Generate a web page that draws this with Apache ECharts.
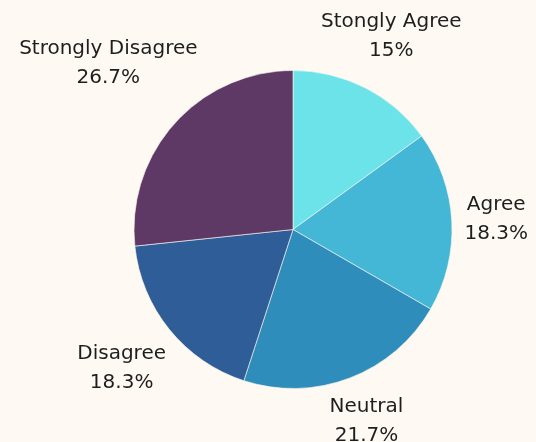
<!DOCTYPE html>
<html>
<head>
<meta charset="utf-8">
<script src="https://cdn.jsdelivr.net/npm/echarts@6/dist/echarts.min.js"></script>
<style>
  html, body { margin: 0; padding: 0; background: #fef9f2; }
  #main { width: 536px; height: 442px; }
</style>
</head>
<body>
<div id="main"></div>
<script>
// 数据
var categories = ['Stongly Agree', 'Agree', 'Neutral', 'Disagree', 'Strongly Disagree'];
var counts = [9, 11, 13, 11, 16];
var colors = ['#6be3e8', '#44b7d6', '#2f8dbb', '#2f5d97', '#5e3966'];

var center = [293, 229.5];
var radius = 159;
var labelGap = 12;
var leading = 5; // 行高中多余的空白，不计入避让框

var total = counts.reduce(function (a, b) { return a + b; }, 0);

// 每个扇区的中心角（从顶部顺时针，弧度）
function midAngle(idx) {
  var before = 0;
  for (var i = 0; i < idx; i++) before += counts[i];
  return (before + counts[idx] / 2) / total * Math.PI * 2;
}

// 标签沿中心角向外推，直到文字框离开半径 radius + labelGap 的圆
function placeLabel(params) {
  var a = midAngle(params.dataIndex);
  var sx = Math.sin(a), sy = -Math.cos(a);
  var hw = params.labelRect.width / 2;
  var hh = params.labelRect.height / 2 - leading;
  var R0 = radius + labelGap;
  var D = 0;
  while (D < 600) {
    var px = D * sx, py = D * sy;
    var nx = Math.max(px - hw, Math.min(0, px + hw));
    var ny = Math.max(py - hh, Math.min(0, py + hh));
    if (Math.sqrt(nx * nx + ny * ny) >= R0) break;
    D += 0.5;
  }
  return {
    x: center[0] + D * sx,
    y: center[1] + D * sy,
    align: 'center',
    verticalAlign: 'middle'
  };
}

var chart = echarts.init(document.getElementById('main'));
chart.setOption({
  backgroundColor: '#fef9f2',
  color: colors,
  animation: false,
  series: [
    {
      type: 'pie',
      center: center,
      radius: radius,
      startAngle: 90,
      clockwise: true,
      avoidLabelOverlap: false,
      percentPrecision: 1,
      itemStyle: {
        borderColor: '#fef9f2',
        borderWidth: 0.6
      },
      label: {
        show: true,
        position: 'outside',
        formatter: function (p) { return p.name + '\n' + p.percent + '%'; },
        fontFamily: 'DejaVu Sans',
        fontSize: 20,
        lineHeight: 29,
        color: '#1e1e1e'
      },
      labelLine: { show: false },
      labelLayout: placeLabel,
      emphasis: { disabled: true },
      data: categories.map(function (name, i) {
        return { name: name, value: counts[i] };
      })
    }
  ]
});
</script>
</body>
</html>
